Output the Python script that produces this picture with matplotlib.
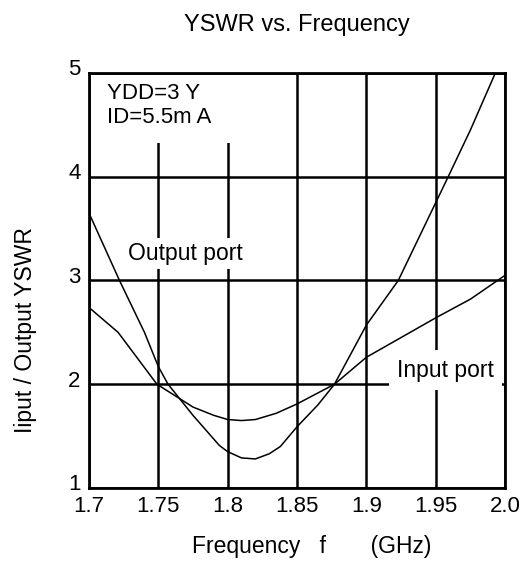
import matplotlib
matplotlib.use("Agg")
import matplotlib.pyplot as plt
import matplotlib.transforms as mtransforms
from matplotlib.patches import Rectangle

plt.rcParams['font.family'] = ['Liberation Sans', 'DejaVu Sans']

# axis ticks
freq_ticks = [1.7, 1.75, 1.8, 1.85, 1.9, 1.95, 2.0]
freq_tick_labels = ["1.7", "1.75", "1.8", "1.85", "1.9", "1.95", "2.0"]
vswr_ticks = [1, 2, 3, 4, 5]

# output port curve (steep one)
output_freq = [1.70, 1.722, 1.74, 1.75, 1.757, 1.775, 1.794, 1.80, 1.81,
               1.82, 1.83, 1.838, 1.85, 1.865, 1.877, 1.90, 1.923, 1.95,
               1.959, 1.975, 1.993]
output_vswr = [3.65, 3.0, 2.5, 2.17, 2.0, 1.70, 1.41, 1.35, 1.29,
               1.28, 1.33, 1.40, 1.59, 1.80, 2.0, 2.57, 3.0, 3.75,
               4.0, 4.45, 5.0]

# input port curve (shallow one)
input_freq = [1.70, 1.721, 1.749, 1.775, 1.79, 1.80, 1.81, 1.82, 1.835,
              1.85, 1.877, 1.90, 1.925, 1.95, 1.975, 2.0]
input_vswr = [2.74, 2.5, 2.0, 1.78, 1.70, 1.66, 1.65, 1.66, 1.72,
              1.81, 2.0, 2.26, 2.45, 2.64, 2.82, 3.05]


def main():
    fig = plt.figure(figsize=(5.25, 5.65), dpi=100)
    ax = fig.add_axes([0.1695, 0.1363, 0.7925, 0.7345])

    ax.set_xlim(1.7, 2.0)
    ax.set_ylim(1, 5)
    ax.set_xticks(freq_ticks)
    ax.set_xticklabels(freq_tick_labels)
    ax.set_yticks(vswr_ticks)
    ax.tick_params(length=0, labelsize=16, pad=6)
    # y labels sit a little above their gridlines in the original
    shift = mtransforms.ScaledTranslation(0, 4 / 72, fig.dpi_scale_trans)
    for lbl in ax.get_yticklabels():
        lbl.set_transform(lbl.get_transform() + shift)
    for s in ax.spines.values():
        s.set_linewidth(2)
        s.set_color("black")

    ax.set_axisbelow(True)
    ax.grid(True, color="black", linewidth=1.8)

    # white area behind the bias text (breaks gridlines like the original)
    ax.add_patch(Rectangle((0.014, 0.831), 0.337, 0.164, transform=ax.transAxes,
                           facecolor="white", edgecolor="none", zorder=1))

    ax.plot(output_freq, output_vswr, color="black", linewidth=1.1, zorder=2)
    ax.plot(input_freq, input_vswr, color="black", linewidth=1.1, zorder=2)

    ax.text(1.713, 4.90, "YDD=3 Y\nID=5.5m A", fontsize=16, ha="left",
            va="top", linespacing=1.15, zorder=3)
    ax.text(1.728, 3.26, "Output port", fontsize=16.5, ha="left", va="center",
            zorder=3, bbox=dict(facecolor="white", edgecolor="none", pad=3))
    ax.text(1.922, 2.135, "Input port", fontsize=16.5, ha="left", va="center",
            zorder=3, bbox=dict(facecolor="white", edgecolor="none", pad=6))

    fig.text(0.566, 0.956, "YSWR vs. Frequency", fontsize=17,
             ha="center", va="center")
    fig.text(0.594, 0.032, "Frequency   f       (GHz)", fontsize=16.5,
             ha="center", va="center")
    fig.text(0.048, 0.416, "Iiput / Output YSWR", fontsize=16.5,
             rotation=90, ha="center", va="center")

    fig.savefig("out.png", dpi=100)


if __name__ == "__main__":
    main()
